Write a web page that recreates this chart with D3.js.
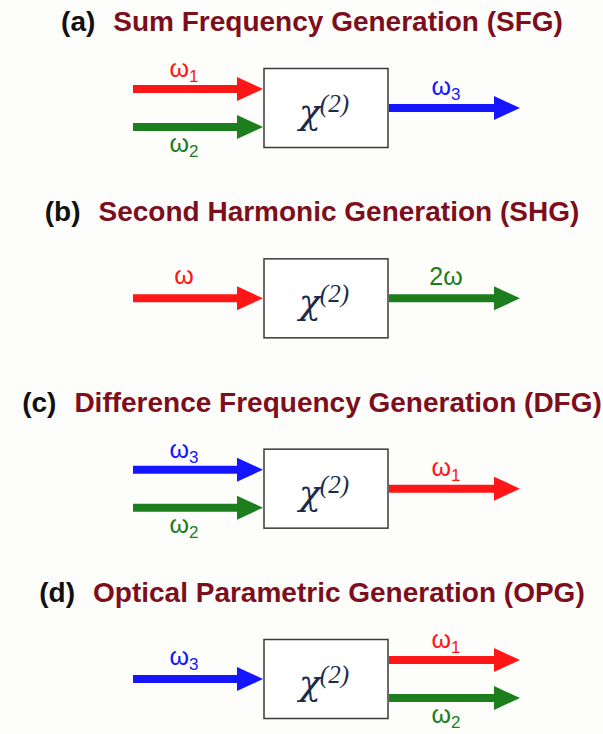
<!DOCTYPE html>
<meta charset="utf-8">
<style>
  body { margin: 0; background: #fdfdfc; }
  text { font-family: "Liberation Sans", Arial, sans-serif; }
</style>
<body>
<div id="diagram"></div>
<script src="https://d3js.org/d3.v7.min.js"></script>
<script>

// panels, top to bottom
var panels = ["a", "b", "c", "d"];
var panelTags = ["(a)", "(b)", "(c)", "(d)"];
var panelTitles = [
  "Sum Frequency Generation (SFG)",
  "Second Harmonic Generation (SHG)",
  "Difference Frequency Generation (DFG)",
  "Optical Parametric Generation (OPG)"
];

// beams going in and out of the crystal
var inputBeams  = [["ω1", "ω2"], ["ω"], ["ω3", "ω2"], ["ω3"]];
var outputBeams = [["ω3"], ["2ω"], ["ω1"], ["ω1", "ω2"]];

var beamColors = {"ω": "#ff1616", "ω1": "#ff1616", "2ω": "#1c7e1c", "ω2": "#1c7e1c", "ω3": "#1515ff"};
var medium = {symbol: "χ", order: "(2)"};

var width = 603, height = 734;

var svg = d3.select("#diagram")
  .append("svg")
    .attr("width", width)
    .attr("height", height);

// vertical position of each panel (box centre)
var y = d3.scalePoint()
  .domain(panels)
  .range([108, 679]);

// horizontal layout
var x = d3.scaleLinear()
  .domain([0, 1])
  .range([133, 520]);
var boxLeft = 264, boxRight = 388, boxH = 79;

// offset of a beam within its group
function beamOffset(i, n) {
  if (n == 1) return 0;
  return d3.scalePoint().domain(d3.range(n)).range([-19, 19])(i);
}

function arrow(x0, x1, yc) {
  var t = 4, hw = 12, hl = 26;
  return "M" + x0 + "," + (yc - t) +
    "L" + (x1 - hl) + "," + (yc - t) +
    "L" + (x1 - hl) + "," + (yc - hw) +
    "L" + x1 + "," + yc +
    "L" + (x1 - hl) + "," + (yc + hw) +
    "L" + (x1 - hl) + "," + (yc + t) +
    "L" + x0 + "," + (yc + t) + "Z";
}

function addLabel(g, name, cx, by) {
  var m = name.match(/^(\d?ω)(\d?)$/);
  var t = g.append("text")
    .attr("x", cx)
    .attr("y", by)
    .attr("text-anchor", "middle")
    .attr("fill", beamColors[name])
    .style("font-size", "25px");
  t.append("tspan").text(m[1]);
  if (m[2]) {
    t.append("tspan")
      .attr("dy", 5)
      .style("font-size", "17px")
      .text(m[2]);
  }
}

panels.forEach(function(p, k) {
  var g = svg.append("g");
  var yc = y(p);

  // title
  var title = g.append("text")
    .attr("x", 312)
    .attr("y", yc - 77)
    .attr("text-anchor", "middle")
    .style("font-size", "28px")
    .style("font-weight", "bold");
  title.append("tspan").attr("fill", "#111").text(panelTags[k]);
  title.append("tspan").attr("dx", 18).attr("fill", "#7d0f1c").text(panelTitles[k]);

  // input beams
  inputBeams[k].forEach(function(b, i) {
    var n = inputBeams[k].length;
    var by = yc + beamOffset(i, n);
    g.append("path")
      .attr("d", arrow(x(0), boxLeft - 1, by))
      .attr("fill", beamColors[b]);
    var ly = (n == 2 && i == 1) ? by + 25 : by - (n == 1 ? 14 : 12);
    addLabel(g, b, 184, ly);
  });

  // output beams
  outputBeams[k].forEach(function(b, i) {
    var n = outputBeams[k].length;
    var by = yc + beamOffset(i, n);
    g.append("path")
      .attr("d", arrow(boxRight + 1, x(1), by))
      .attr("fill", beamColors[b]);
    var ly = (n == 2 && i == 1) ? by + 25 : by - (n == 1 ? 13 : 12);
    addLabel(g, b, 446, ly);
  });

  // crystal box
  g.append("rect")
    .attr("x", boxLeft)
    .attr("y", yc - boxH / 2)
    .attr("width", boxRight - boxLeft)
    .attr("height", boxH)
    .attr("fill", "#fff")
    .attr("stroke", "#3a3a3a")
    .attr("stroke-width", 1.5);

  var chi = g.append("text")
    .attr("x", 299)
    .attr("y", yc + 16)
    .attr("fill", "#1d2b4b")
    .style("font-family", "'DejaVu Serif', serif")
    .style("font-style", "italic")
    .style("font-size", "36px");
  chi.append("tspan").text(medium.symbol);
  chi.append("tspan")
    .attr("dy", -12)
    .attr("dx", -1)
    .style("font-family", "'Liberation Serif', serif")
    .style("font-size", "25px")
    .text(medium.order);
});

</script>
</body>
